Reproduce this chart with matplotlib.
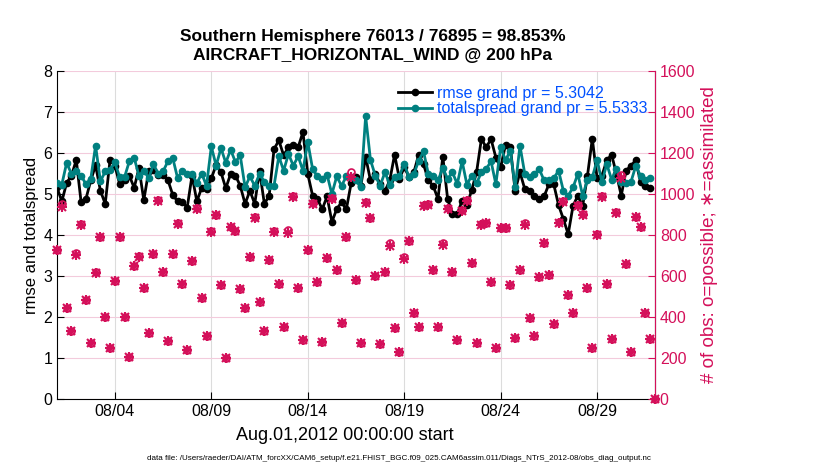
import numpy as np
import matplotlib
matplotlib.use("Agg")
import matplotlib.pyplot as plt
import matplotlib.dates as mdates

plt.rcParams['font.family'] = ['Liberation Sans', 'DejaVu Sans']

# 6-hourly bins, Aug 1 00Z through Sep 1 00Z
times = np.arange(np.datetime64('2012-08-01T00'), np.datetime64('2012-09-01T01'),
                  np.timedelta64(6, 'h')).astype('datetime64[m]').astype(object)

rmse = [5.16, 4.82, 5.27, 5.45, 5.83, 4.80, 4.88, 5.33, 5.70, 5.08,
        4.76, 5.83, 5.69, 5.24, 5.33, 5.45, 5.15, 5.63, 4.85, 5.55,
        5.59, 5.47, 5.47, 5.34, 4.98, 4.82, 4.80, 4.67, 5.45, 4.82,
        5.15, 5.12, 5.38, 5.71, 5.53, 5.14, 5.49, 5.45, 5.20, 4.76,
        5.08, 4.76, 5.57, 4.76, 4.96, 6.09, 6.31, 5.94, 6.14, 6.20,
        6.14, 6.51, 5.49, 4.96, 4.88, 4.63, 4.94, 4.32, 4.63, 4.80,
        4.63, 5.27, 5.41, 5.20, 5.91, 5.33, 5.50, 5.24, 5.07, 5.33,
        5.96, 5.37, 5.65, 5.42, 5.53, 5.96, 5.73, 5.33, 5.20, 4.88,
        5.91, 4.88, 4.51, 4.51, 4.84, 4.72, 5.10, 5.53, 6.34, 6.14,
        6.34, 5.89, 5.65, 6.20, 6.14, 5.08, 5.53, 5.12, 5.08, 4.96,
        4.89, 4.94, 5.24, 5.24, 4.73, 4.39, 4.02, 4.71, 4.96, 4.71,
        5.45, 6.35, 5.38, 5.45, 5.82, 5.96, 5.49, 4.96, 5.57, 5.69,
        5.82, 5.29, 5.20, 5.14, np.nan]

spread = [5.27, 5.23, 5.76, 5.49, 5.55, 5.45, 5.24, 5.37, 6.18, 5.31,
          5.55, 5.59, 5.77, 5.41, 5.41, 5.80, 5.88, 5.45, 5.57, 5.39,
          5.72, 5.50, 5.55, 5.80, 5.88, 5.39, 5.57, 5.49, 5.50, 5.26,
          5.50, 5.20, 6.16, 5.69, 6.12, 5.76, 6.08, 5.78, 5.94, 5.16,
          5.43, 5.20, 5.49, 5.30, 5.20, 5.20, 5.92, 5.57, 5.98, 5.69,
          5.92, 5.57, 6.27, 5.61, 5.43, 5.37, 5.47, 5.00, 5.43, 5.20,
          5.43, 5.41, 5.33, 5.16, 6.90, 5.83, 5.45, 5.20, 5.53, 5.23,
          5.41, 5.45, 5.73, 5.41, 5.49, 5.81, 6.04, 5.49, 5.45, 5.33,
          5.63, 5.37, 5.53, 5.24, 5.80, 5.23, 5.45, 5.26, 5.53, 5.61,
          5.80, 5.24, 6.15, 5.82, 6.06, 5.16, 6.18, 5.49, 5.41, 5.49,
          5.61, 5.33, 5.35, 5.38, 5.57, 5.08, 4.96, 5.16, 5.49, 4.96,
          5.35, 5.41, 5.83, 5.29, 5.73, 5.35, 5.61, 5.30, 5.27, 5.29,
          5.68, 5.45, 5.33, 5.38, np.nan]

nused = [727, 938, 442, 332, 702, 849, 483, 275, 616, 792,
         401, 247, 576, 792, 401, 203, 649, 694, 540, 320,
         707, 967, 621, 284, 707, 854, 561, 239, 675, 928,
         491, 307, 816, 896, 556, 201, 837, 821, 535, 442,
         691, 885, 475, 332, 678, 816, 561, 350, 808, 987,
         543, 288, 727, 950, 572, 280, 686, 974, 629, 369,
         792, 1084, 580, 272, 954, 881, 602, 268, 621, 748,
         345, 231, 683, 771, 418, 353, 941, 946, 629, 350,
         751, 927, 621, 288, 917, 967, 665, 272, 849, 857,
         572, 247, 833, 833, 556, 296, 629, 849, 394, 307,
         597, 759, 605, 366, 860, 962, 507, 421, 941, 898,
         540, 247, 800, 983, 561, 294, 909, 1080, 659, 231,
         886, 837, 418, 293, 0]

# possible minus used (most are small / hidden under the markers)
nrejected = [0, 12, 0, 0, 10, 4, 0, 0, 3, 0,
             0, 0, 2, 0, 0, 0, 0, 3, 0, 0,
             0, 5, 0, 0, 0, 4, 0, 0, 0, 6,
             0, 0, 3, 0, 0, 0, 2, 0, 0, 0,
             0, 3, 0, 0, 0, 2, 0, 0, 16, 5,
             0, 0, 0, 4, 0, 0, 0, 6, 0, 0,
             0, 25, 0, 0, 5, 0, 0, 0, 0, 15,
             0, 0, 10, 0, 0, 0, 4, 3, 0, 0,
             12, 5, 0, 0, 4, 6, 0, 0, 3, 3,
             0, 0, 2, 2, 0, 0, 0, 10, 0, 0,
             0, 3, 0, 0, 4, 5, 0, 0, 4, 3,
             0, 0, 3, 5, 0, 0, 4, 12, 0, 0,
             4, 3, 0, 0, 0]
nposs = [u + r for u, r in zip(nused, nrejected)]

crimson = '#D4105A'
teal = '#008080'

fig = plt.figure(figsize=(8.3, 4.7), dpi=100)
ax = fig.add_axes([57/830, 71/470, 598/830, 328/470])
ax2 = ax.twinx()

ax.grid(axis='x', color='#dcdcdc', linewidth=0.8)
ax.grid(axis='y', color='#f3cbdc', linewidth=0.8)
ax.set_axisbelow(True)

ax.plot(times, rmse, '-o', color='black', linewidth=2, markersize=4.5,
        label='rmse grand pr = 5.3042', zorder=3)
ax.plot(times, spread, '-o', color=teal, linewidth=2, markersize=4.5,
        label='totalspread grand pr = 5.5333', zorder=3)

# possible: open circles; assimilated: 8-armed asterisk (+ and x overlaid)
ax2.plot(times, nposs, 'o', color=crimson, markersize=5, fillstyle='none',
         markeredgewidth=1.2, clip_on=False)
ax2.plot(times, nused, '+', color=crimson, markersize=7, markeredgewidth=1.5,
         clip_on=False)
ax2.plot(times, nused, 'x', color=crimson, markersize=5.5, markeredgewidth=1.5,
         clip_on=False)

ax.set_xlim(times[0], times[-1])
ax.set_ylim(0, 8)
ax2.set_ylim(0, 1600)
ax.set_yticks(range(0, 9))
ax2.set_yticks(range(0, 1601, 200))

ax.xaxis.set_major_locator(mdates.DayLocator(bymonthday=[4, 9, 14, 19, 24, 29]))
ax.xaxis.set_major_formatter(mdates.DateFormatter('%m/%d'))

ax.tick_params(direction='in', length=5, labelsize=11.5)
ax2.tick_params(direction='in', length=5, labelsize=11.5, colors=crimson)

for a in (ax, ax2):
    a.spines['top'].set_visible(False)
ax2.spines['right'].set_color(crimson)
ax2.spines['left'].set_visible(False)
ax2.spines['bottom'].set_visible(False)

ax.set_ylabel('rmse and totalspread', fontsize=12, labelpad=3)
ax2.set_ylabel('# of obs: o=possible; \u2217=assimilated', fontsize=13.5,
               color=crimson, labelpad=4)
ax.set_xlabel('Aug.01,2012 00:00:00 start', fontsize=13, labelpad=6, x=0.482)

ax.set_title('Southern Hemisphere 76013 / 76895 = 98.853%\nAIRCRAFT_HORIZONTAL_WIND @ 200 hPa',
             fontsize=12.5, fontweight='bold', pad=8, linespacing=1.3, x=0.528)

leg = ax.legend(loc='upper left', bbox_to_anchor=(0.56, 0.975), frameon=False,
                fontsize=11.5, handlelength=2.1, handletextpad=0.3,
                borderaxespad=0, labelspacing=0.05, labelcolor='#0050ff')
leg.set_zorder(10)

fig.text(0.481, 0.022,
         'data file: /Users/raeder/DAI/ATM_forcXX/CAM6_setup/f.e21.FHIST_BGC.f09_025.CAM6assim.011/Diags_NTrS_2012-08/obs_diag_output.nc',
         ha='center', fontsize=5.8)

fig.savefig('out.png', dpi=100)
